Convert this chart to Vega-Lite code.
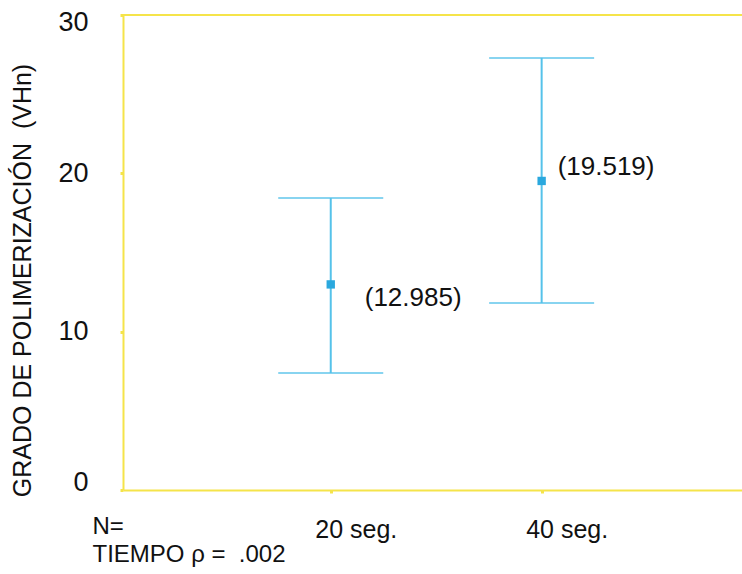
{
  "$schema": "https://vega.github.io/schema/vega-lite/v6.json",
  "width": 619,
  "height": 475,
  "autosize": {"type": "none"},
  "padding": {"left": 123, "top": 15, "right": 0, "bottom": 84},
  "background": "white",
  "config": {
    "view": {"stroke": null},
    "font": "Liberation Sans",
    "text": {"font": "Liberation Sans"}
  },
  "data": {
    "values": [
      {"tiempo": 20, "media": 12.985, "inferior": 7.39, "superior": 18.44, "etiqueta": "(12.985)"},
      {"tiempo": 40, "media": 19.519, "inferior": 11.81, "superior": 27.29, "etiqueta": "(19.519)"}
    ]
  },
  "layer": [
    {
      "mark": {"type": "rule", "color": "#f5e44a", "strokeWidth": 2},
      "encoding": {
        "y": {
          "datum": 30,
          "type": "quantitative",
          "scale": {"domain": [0, 30], "nice": false},
          "axis": {
            "values": [0, 10, 20, 30],
            "grid": false,
            "domainColor": "#f5e44a",
            "domainWidth": 2,
            "tickColor": "#f5e44a",
            "tickSize": 3,
            "tickWidth": 3,
            "labelFontSize": 27,
            "labelPadding": 32,
            "labelColor": "#111111",
            "labelFlush": true,
            "labelFlushOffset": 6,
            "title": "GRADO DE POLIMERIZACIÓN \u00a0(VHn)",
            "titleFontSize": 25,
            "titleFontWeight": "normal",
            "titleColor": "#111111",
            "titleX": -101,
            "titleY": 265,
            "titleAngle": 270,
            "titleAlign": "center",
            "titleBaseline": "middle"
          }
        }
      }
    },
    {
      "mark": {"type": "rule", "color": "#55c2ea", "strokeWidth": 2},
      "encoding": {
        "x": {
          "field": "tiempo",
          "type": "quantitative",
          "scale": {"domain": [0.3, 59], "nice": false, "zero": false},
          "axis": {
            "values": [20, 40],
            "labelExpr": "datum.value + ' seg.'",
            "grid": false,
            "domainColor": "#f5e44a",
            "domainWidth": 2,
            "tickColor": "#f5e44a",
            "tickSize": 3,
            "tickWidth": 3,
            "labelAlign": "left",
            "labelOffset": -16,
            "labelPadding": 24,
            "labelFontSize": 25,
            "labelColor": "#111111",
            "title": ["N=", "TIEMPO ρ = \u00a0.002"],
            "titleX": -31,
            "titleY": 24,
            "titleAlign": "left",
            "titleAnchor": "start",
            "titleBaseline": "top",
            "titleFontSize": 24,
            "titleFontWeight": "normal",
            "titleLineHeight": 28,
            "titleColor": "#111111"
          }
        },
        "y": {"field": "inferior", "type": "quantitative", "title": "GRADO DE POLIMERIZACIÓN \u00a0(VHn)"},
        "y2": {"field": "superior"}
      }
    },
    {
      "mark": {"type": "tick", "orient": "horizontal", "color": "#55c2ea", "size": 105, "thickness": 2},
      "encoding": {
        "x": {"field": "tiempo", "type": "quantitative"},
        "y": {"field": "superior", "type": "quantitative", "title": "GRADO DE POLIMERIZACIÓN \u00a0(VHn)"}
      }
    },
    {
      "mark": {"type": "tick", "orient": "horizontal", "color": "#55c2ea", "size": 105, "thickness": 2},
      "encoding": {
        "x": {"field": "tiempo", "type": "quantitative"},
        "y": {"field": "inferior", "type": "quantitative", "title": "GRADO DE POLIMERIZACIÓN \u00a0(VHn)"}
      }
    },
    {
      "mark": {"type": "point", "shape": "square", "filled": true, "color": "#2aa8de", "size": 70, "opacity": 1},
      "encoding": {
        "x": {"field": "tiempo", "type": "quantitative"},
        "y": {"field": "media", "type": "quantitative", "title": "GRADO DE POLIMERIZACIÓN \u00a0(VHn)"}
      }
    },
    {
      "transform": [{"filter": "datum.tiempo == 20"}],
      "mark": {"type": "text", "align": "left", "baseline": "middle", "dx": 34, "dy": 14, "fontSize": 26, "color": "#111111"},
      "encoding": {
        "x": {"field": "tiempo", "type": "quantitative"},
        "y": {"field": "media", "type": "quantitative", "title": "GRADO DE POLIMERIZACIÓN \u00a0(VHn)"},
        "text": {"field": "etiqueta"}
      }
    },
    {
      "transform": [{"filter": "datum.tiempo == 40"}],
      "mark": {"type": "text", "align": "left", "baseline": "middle", "dx": 16, "dy": -14, "fontSize": 26, "color": "#111111"},
      "encoding": {
        "x": {"field": "tiempo", "type": "quantitative"},
        "y": {"field": "media", "type": "quantitative", "title": "GRADO DE POLIMERIZACIÓN \u00a0(VHn)"},
        "text": {"field": "etiqueta"}
      }
    }
  ]
}
